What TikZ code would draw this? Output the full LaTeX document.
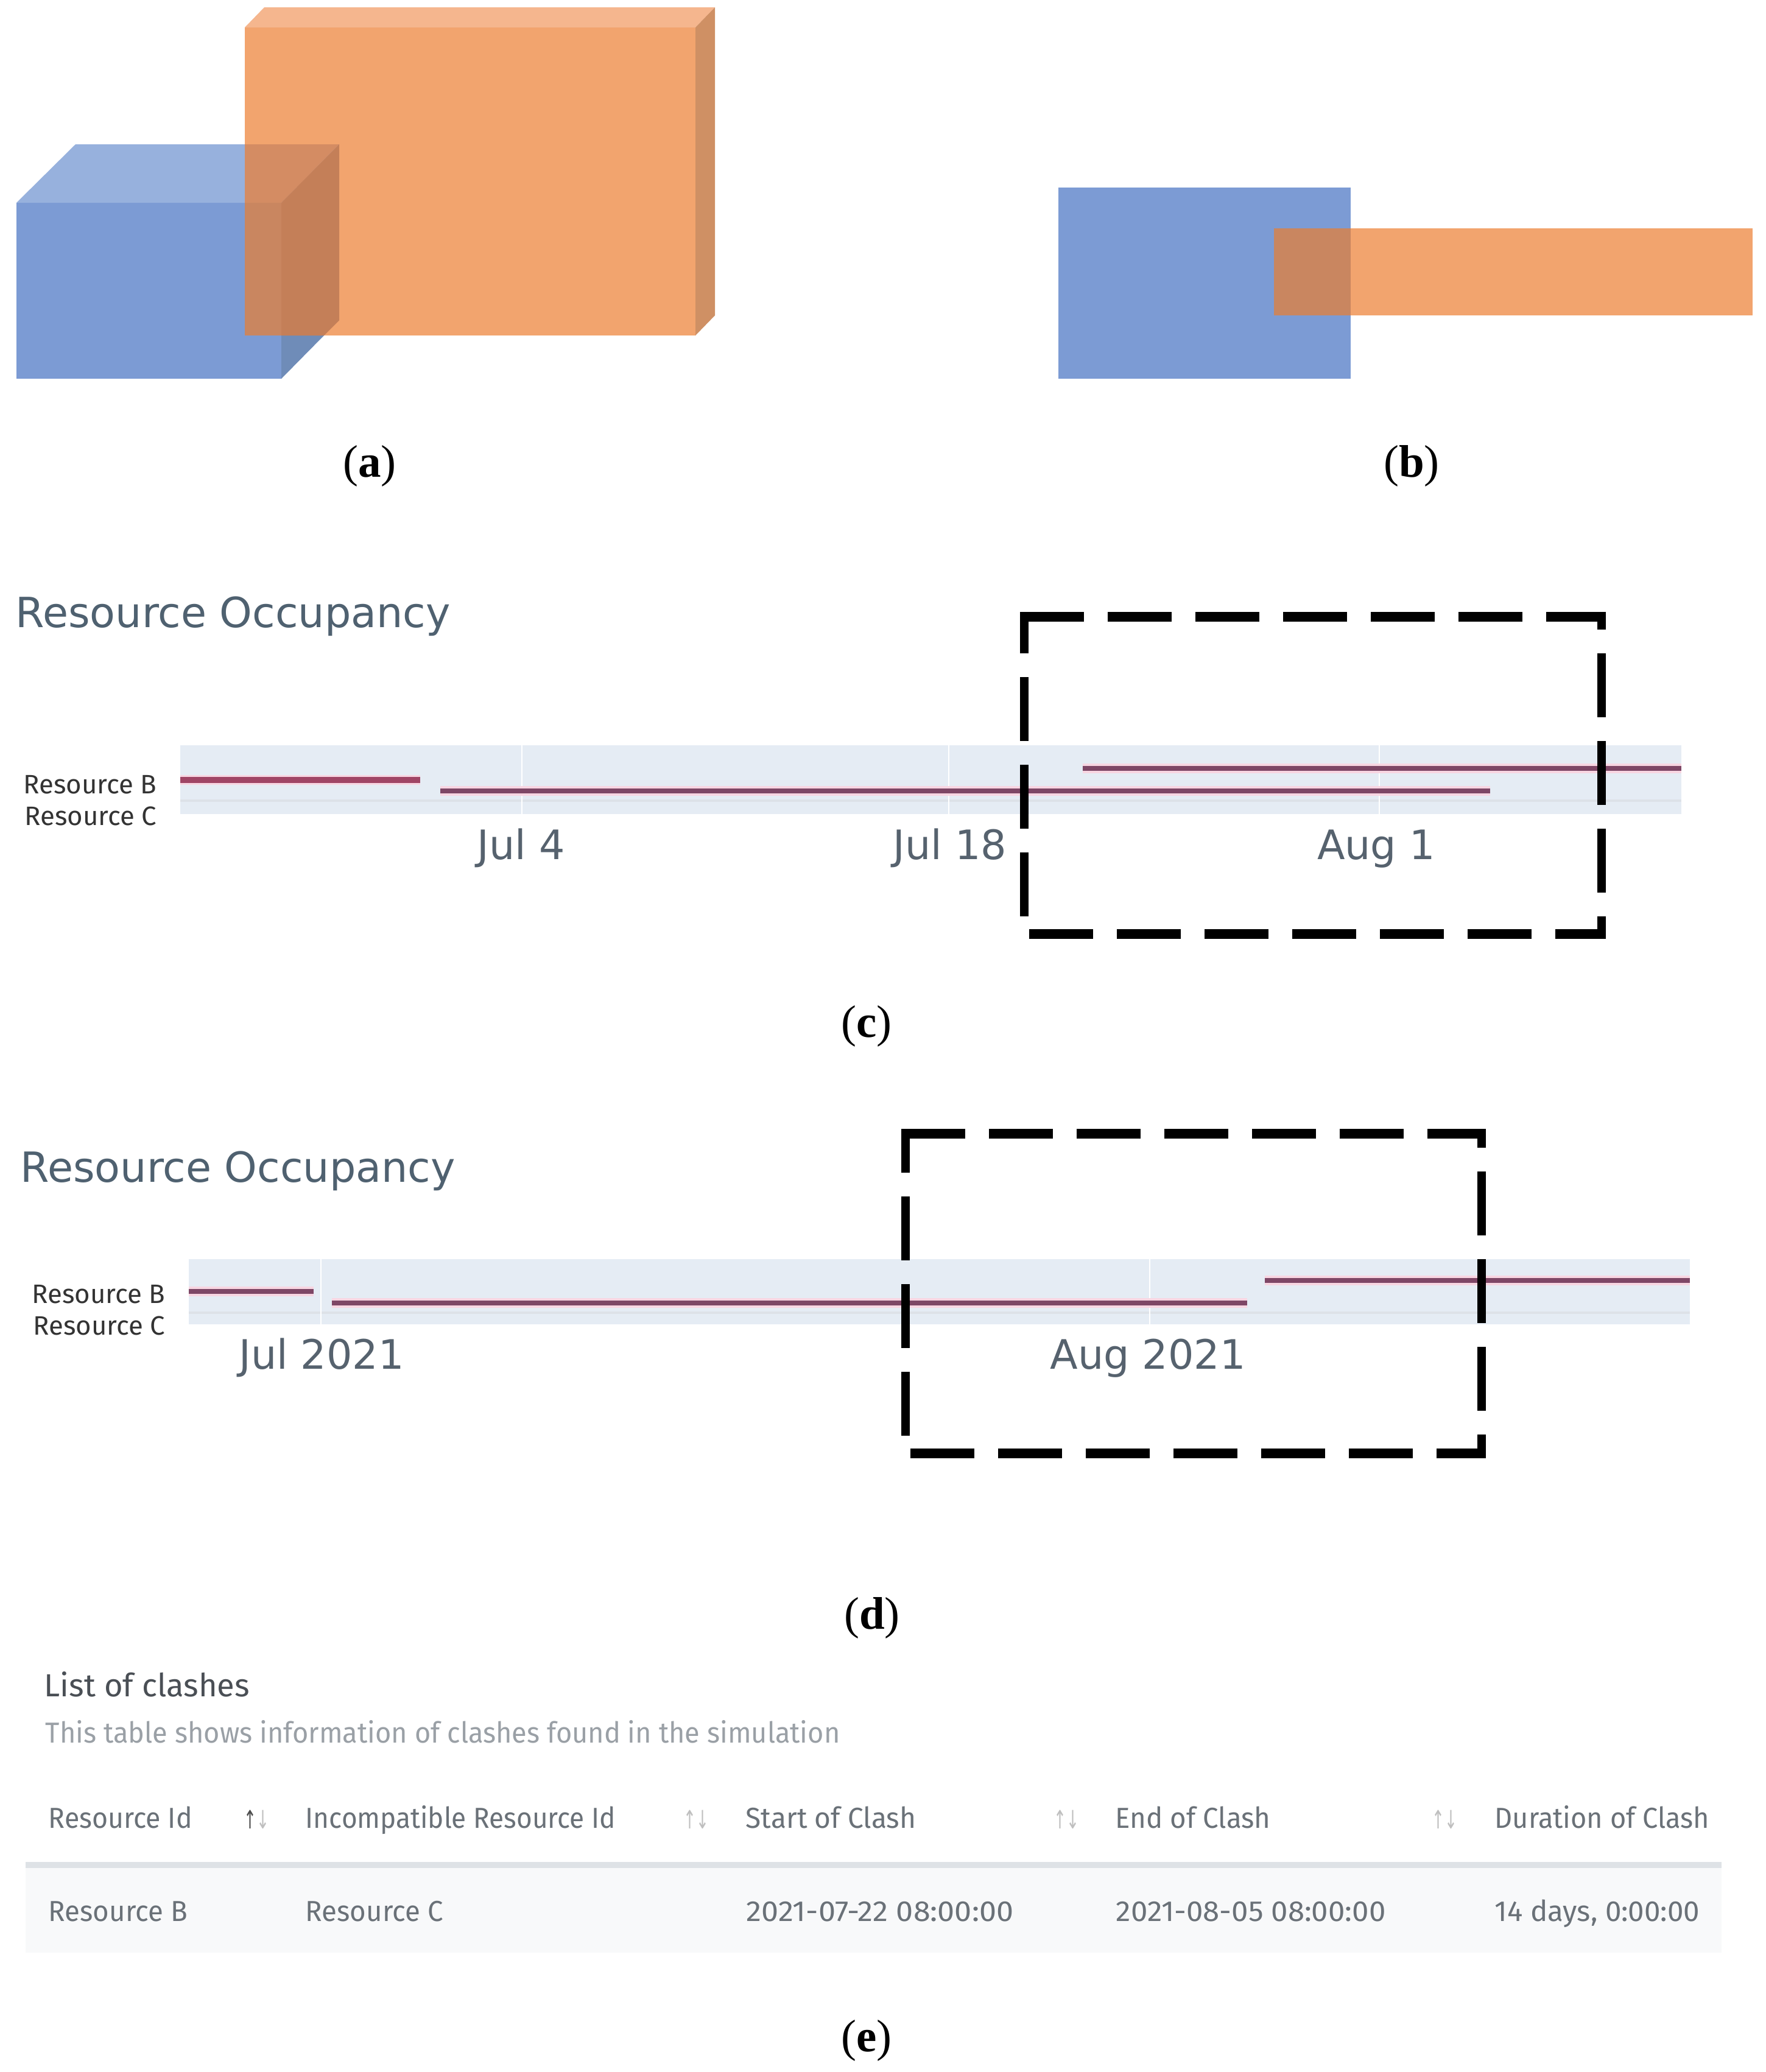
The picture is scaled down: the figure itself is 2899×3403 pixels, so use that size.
\documentclass[tikz,border=0pt]{standalone}
\usepackage{graphicx}
\usepackage{fontspec}
\setmainfont{Liberation Serif}
\newfontfamily\chartfont{DejaVu Sans}
\newfontfamily\tablefont{Fira Sans}
\newcommand{\tabsq}[1]{\scalebox{0.94}[1]{#1}}
\newcommand{\sortsq}[1]{\scalebox{0.75}[1.25]{#1}}
\definecolor{bluefront}{HTML}{7C9BD4}
\definecolor{bluetop}{HTML}{97B1DD}
\definecolor{blueside}{HTML}{6F8CB8}
\definecolor{orfront}{HTML}{F2A46E}
\definecolor{ortop}{HTML}{F5B68E}
\definecolor{orside}{HTML}{CF9064}
\definecolor{ovtop}{HTML}{D48C63}
\definecolor{ovfront}{HTML}{C98660}
\definecolor{ovside}{HTML}{C47F58}
\definecolor{bandcol}{HTML}{E5ECF4}
\definecolor{bandline}{HTML}{DDE2E8}
\definecolor{halo}{HTML}{F8D6E2}
\definecolor{corecol}{HTML}{7E4766}
\definecolor{corefirst}{HTML}{A04565}
\definecolor{titlecol}{HTML}{4F6170}
\definecolor{tickcol}{HTML}{56626E}
\definecolor{tabdark}{HTML}{4A4F55}
\definecolor{tabhead}{HTML}{6A7178}
\definecolor{tabsub}{HTML}{9AA0A6}
\definecolor{tabrule}{HTML}{DEE2E6}
\definecolor{tabrow}{HTML}{F8F9FA}
\tikzset{
  caplabel/.style={inner sep=0pt,font=\fontsize{18}{22}\selectfont},
  charttitle/.style={anchor=base west,inner sep=0pt,text=titlecol,font=\chartfont\fontsize{16.4}{20}\selectfont},
  ticklabel/.style={anchor=base,inner sep=0pt,text=tickcol,font=\chartfont\fontsize{16}{19}\selectfont},
  reslabel/.style={anchor=east,inner sep=0pt,text=black!80,font=\tablefont\fontsize{10.5}{13}\selectfont},
  tabtitle/.style={anchor=base west,inner sep=0pt,text=tabdark,font=\tablefont\fontsize{12.6}{15}\selectfont},
  tabsubtitle/.style={anchor=base west,inner sep=0pt,text=tabsub,font=\tablefont\fontsize{11.4}{14}\selectfont},
  tabheader/.style={anchor=base west,inner sep=0pt,text=tabhead,font=\tablefont\fontsize{11.4}{14}\selectfont},
  tabcell/.style={anchor=base west,inner sep=0pt,text=tabhead,font=\tablefont\fontsize{11.4}{14}\selectfont},
  sortarrows/.style={anchor=center,inner sep=0pt,text=black!25,font=\chartfont\fontsize{8}{10}\selectfont},
  haloline/.style={halo,line width=3.9pt},
  coreline/.style={corecol,line width=1.9pt},
  gridln/.style={white,line width=0.6pt},
  clashh/.style={black,line width=3.9pt,dash pattern=on 25.2pt off 9.36pt},
  clashv/.style={black,line width=3.2pt,dash pattern=on 25.2pt off 9.36pt},
}
\begin{document}
\begin{tikzpicture}[x=0.24pt,y=-0.24pt]
\useasboundingbox (0,0) rectangle (2899,3403);
\fill[white] (0,0) rectangle (2899,3403);
% ---------- panel a
\fill[orfront] (402,45) rectangle (1142,551);
\fill[ortop] (402,45) -- (434,12) -- (1174,12) -- (1142,45) -- cycle;
\fill[orside] (1142,45) -- (1174,12) -- (1174,518) -- (1142,551) -- cycle;
\fill[bluefront] (27,333) rectangle (462,622);
\fill[bluetop] (27,333) -- (124,237) -- (557,237) -- (462,333) -- cycle;
\fill[blueside] (462,551) -- (532,551) -- (462,622) -- cycle;
\fill[ovtop] (402,237) -- (557,237) -- (462,333) -- (402,333) -- cycle;
\fill[ovfront] (402,333) rectangle (462,551);
\fill[ovside] (462,333) -- (557,237) -- (557,526) -- (532,551) -- (462,551) -- cycle;
\node[caplabel] (capa) at (607,765) {(\textbf{a})};
% ---------- panel b
\fill[bluefront] (1738,308) rectangle (2218,622);
\fill[orfront] (2092,375) rectangle (2878,518);
\fill[ovfront] (2092,375) rectangle (2218,518);
\node[caplabel] (capb) at (2318,765) {(\textbf{b})};
% ---------- panel c
\fill[bandcol] (296,1224) rectangle (2761,1337);
\draw[bandline,line width=1pt] (296,1315) -- (2761,1315);
\foreach \gx in {857,1558,2265} \draw[gridln] (\gx,1224) -- (\gx,1337);
\draw[haloline] (296,1281) -- (690,1281);
\draw[corefirst,line width=2.6pt] (296,1281) -- (690,1281);
\draw[haloline] (723,1299) -- (2447,1299);
\draw[coreline] (723,1299) -- (2447,1299);
\draw[haloline] (1778,1262) -- (2761,1262);
\draw[coreline] (1778,1262) -- (2761,1262);
\node[charttitle] (titlec) at (25,1030) {Resource Occupancy};
\node[reslabel] (cresb) at (258,1289) {Resource B};
\node[reslabel] (cresc) at (258,1340) {Resource C};
\node[ticklabel] (tj4) at (856,1411) {Jul 4};
\node[ticklabel] (tj18) at (1560,1411) {Jul 18};
\node[ticklabel] (ta1) at (2260,1411) {Aug 1};
\coordinate (cbtl) at (1682,1013);
\coordinate (cbtr) at (2630,1013);
\coordinate (cbbr) at (2630,1534);
\coordinate (cbbl) at (1682,1534);
\draw[clashh] ([xshift=-1.6pt]cbtl) -- ([xshift=1.6pt]cbtr);
\draw[clashv,dash phase=225.48pt] ([yshift=1.95pt]cbtr) -- ([yshift=-1.95pt]cbbr);
\draw[clashh,dash phase=350.88pt] ([xshift=1.6pt]cbbr) -- ([xshift=-1.6pt]cbbl);
\draw[clashv,dash phase=578.6pt] ([yshift=-1.95pt]cbbl) -- ([yshift=1.95pt]cbtl);
\node[caplabel] (capc) at (1423,1685) {(\textbf{c})};
% ---------- panel d
\fill[bandcol] (310,2068) rectangle (2775,2175);
\draw[bandline,line width=1pt] (310,2156) -- (2775,2156);
\foreach \gx in {527,1888} \draw[gridln] (\gx,2068) -- (\gx,2175);
\draw[haloline] (310,2121) -- (515,2121);
\draw[coreline] (310,2121) -- (515,2121);
\draw[haloline] (545,2140) -- (2048,2140);
\draw[coreline] (545,2140) -- (2048,2140);
\draw[haloline] (2077,2103) -- (2775,2103);
\draw[coreline] (2077,2103) -- (2775,2103);
\node[charttitle] (titled) at (33,1941) {Resource Occupancy};
\node[reslabel] (dresb) at (272,2126) {Resource B};
\node[reslabel] (dresc) at (272,2177) {Resource C};
\node[ticklabel] (tj21) at (528,2248) {Jul 2021};
\node[ticklabel] (ta21) at (1885,2248) {Aug 2021};
\coordinate (dbtl) at (1487,1862);
\coordinate (dbtr) at (2433,1862);
\coordinate (dbbr) at (2433,2387);
\coordinate (dbbl) at (1487,2387);
\draw[clashh] ([xshift=-1.6pt]dbtl) -- ([xshift=1.6pt]dbtr);
\draw[clashv,dash phase=225pt] ([yshift=1.95pt]dbtr) -- ([yshift=-1.95pt]dbbr);
\draw[clashh,dash phase=351.36pt] ([xshift=1.6pt]dbbr) -- ([xshift=-1.6pt]dbbl);
\draw[clashv,dash phase=578.6pt] ([yshift=-1.95pt]dbbl) -- ([yshift=1.95pt]dbtl);
\node[caplabel] (capd) at (1432,2657) {(\textbf{d})};
% ---------- panel e
\fill[tabrow] (42,3068) rectangle (2827,3207);
\fill[tabrule] (42,3058) rectangle (2827,3068);
\node[tabtitle] (ttl) at (72,2786) {List of clashes};
\node[tabsubtitle] (tsub) at (74,2862) {\scalebox{0.95}[1]{This table shows information of clashes found in the simulation}};
\node[tabheader] (h1) at (79,3002) {\tabsq{Resource Id}};
\node[tabheader] (h2) at (501,3002) {\scalebox{0.93}[1]{Incompatible Resource Id}};
\node[tabheader] (h3) at (1224,3002) {\scalebox{0.97}[1]{Start of Clash}};
\node[tabheader] (h4) at (1831,3002) {\scalebox{0.96}[1]{End of Clash}};
\node[tabheader] (h5) at (2454,3002) {\scalebox{0.95}[1]{Duration of Clash}};
\node[sortarrows] (s1) at (421,2988) {\sortsq{{\color{black!70}↑}↓}};
\node[sortarrows] (s2) at (1143,2988) {\sortsq{↑↓}};
\node[sortarrows] (s3) at (1751,2988) {\sortsq{↑↓}};
\node[sortarrows] (s4) at (2372,2988) {\sortsq{↑↓}};
\node[tabcell] (c1) at (79,3155) {\scalebox{0.96}[1]{Resource B}};
\node[tabcell] (c2) at (501,3155) {\scalebox{0.96}[1]{Resource C}};
\node[tabcell] (c3) at (1225,3155) {\scalebox{1.06}[1]{2021-07-22 08:00:00}};
\node[tabcell] (c4) at (1832,3155) {\scalebox{1.035}[1]{2021-08-05 08:00:00}};
\node[tabcell] (c5) at (2454,3155) {14 days, 0:00:00};
\node[caplabel] (cape) at (1423,3351) {(\textbf{e})};
\end{tikzpicture}
\end{document}
